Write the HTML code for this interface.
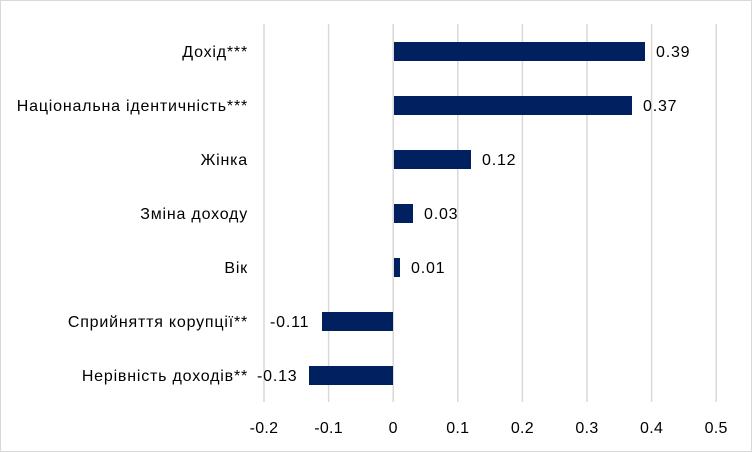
<!DOCTYPE html>
<html><head><meta charset="utf-8"><style>
body{margin:0;background:#fff}
svg{display:block}
text{font-family:"Liberation Sans",sans-serif;font-size:16px;fill:#000;letter-spacing:0.8px}
.t text{letter-spacing:0.3px}
</style></head><body>
<svg width="752" height="452" viewBox="0 0 752 452">
<rect x="0.5" y="0.5" width="751" height="451" fill="#fff" stroke="#d9d9d9"/>
<g stroke="#d9d9d9" stroke-width="1.5">
<line x1="264" y1="24" x2="264" y2="402"/>
<line x1="328.6" y1="24" x2="328.6" y2="402"/>
<line x1="393.2" y1="24" x2="393.2" y2="402"/>
<line x1="457.8" y1="24" x2="457.8" y2="402"/>
<line x1="522.4" y1="24" x2="522.4" y2="402"/>
<line x1="587" y1="24" x2="587" y2="402"/>
<line x1="651.6" y1="24" x2="651.6" y2="402"/>
<line x1="716.2" y1="24" x2="716.2" y2="402"/>
</g>
<g fill="#002060">
<rect x="394" y="42" width="251" height="19"/>
<rect x="394" y="96" width="238" height="19"/>
<rect x="394" y="150" width="77" height="19"/>
<rect x="394" y="204" width="19" height="19"/>
<rect x="394" y="258" width="6" height="19"/>
<rect x="322" y="312" width="71" height="19"/>
<rect x="309" y="366" width="84" height="19"/>
</g>
<g>
<text x="656" y="57">0.39</text>
<text x="643" y="111">0.37</text>
<text x="482" y="165">0.12</text>
<text x="424" y="219">0.03</text>
<text x="411" y="273">0.01</text>
<text x="270" y="327">-0.11</text>
<text x="257" y="381">-0.13</text>
</g>
<g text-anchor="end">
<text x="248" y="57">Дохід***</text>
<text x="248" y="111">Національна ідентичність***</text>
<text x="248" y="165">Жінка</text>
<text x="248" y="219">Зміна доходу</text>
<text x="248" y="273">Вік</text>
<text x="248" y="327">Сприйняття корупції**</text>
<text x="248" y="381">Нерівність доходів**</text>
</g>
<g text-anchor="middle" class="t">
<text x="264" y="433">-0.2</text>
<text x="328.6" y="433">-0.1</text>
<text x="393.2" y="433">0</text>
<text x="457.8" y="433">0.1</text>
<text x="522.4" y="433">0.2</text>
<text x="587" y="433">0.3</text>
<text x="651.6" y="433">0.4</text>
<text x="716.2" y="433">0.5</text>
</g>
</svg>
</body></html>
